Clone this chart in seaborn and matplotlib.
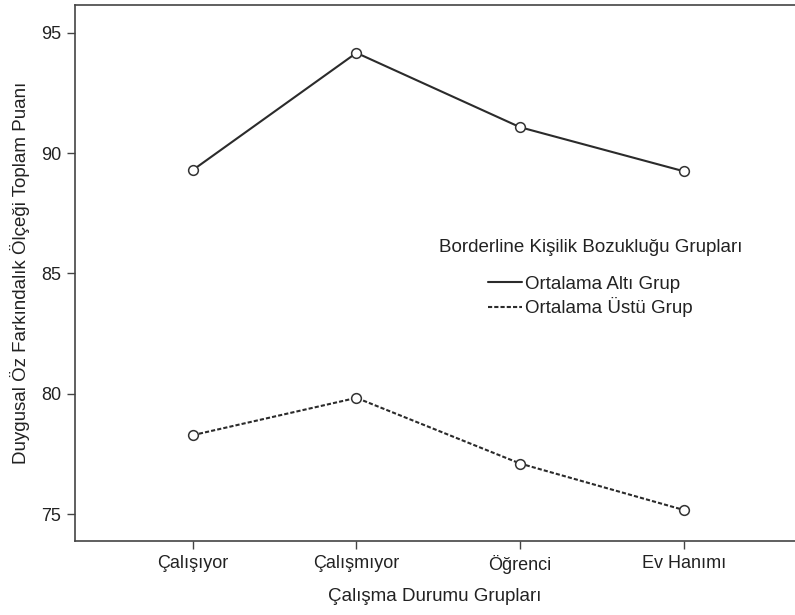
import matplotlib
matplotlib.use("Agg")
import matplotlib.pyplot as plt
import seaborn as sns
import pandas as pd

# data
gruplar = ["Çalışıyor", "Çalışmıyor", "Öğrenci", "Ev Hanımı"]
alti_grup = [89.3, 94.17, 91.08, 89.25]
ustu_grup = [78.28, 79.83, 77.1, 75.17]
seri_adlari = ["Ortalama Altı Grup", "Ortalama Üstü Grup"]

df = pd.DataFrame({
    "grup": gruplar * 2,
    "puan": alti_grup + ustu_grup,
    "seri": [seri_adlari[0]] * 4 + [seri_adlari[1]] * 4,
})

sns.set_style("ticks")
plt.rcParams["font.family"] = ["Liberation Sans", "DejaVu Sans"]

fig = plt.figure(figsize=(7.95, 6.15), dpi=100)
ax = fig.add_axes([75 / 795, 1 - 541 / 615, 1 - 75 / 795, 536 / 615])

sns.lineplot(data=df, x="grup", y="puan", hue="seri", style="seri",
             palette=["#2b2b2b", "#2b2b2b"],
             dashes={seri_adlari[0]: "", seri_adlari[1]: (2, 1)},
             markers={seri_adlari[0]: "o", seri_adlari[1]: "o"},
             markersize=7, markerfacecolor="white", markeredgecolor="#333333",
             markeredgewidth=1.1, linewidth=1.5, sort=False, ax=ax)

ax.set_xlim(-0.72, 3.68)
ax.set_ylim(73.88, 96.16)
ax.set_yticks([75, 80, 85, 90, 95])
ax.set_xlabel("Çalışma Durumu Grupları", fontsize=13.5, color="#222222", labelpad=10)
ax.set_ylabel("Duygusal Öz Farkındalık Ölçeği Toplam Puanı", fontsize=13.5,
              color="#222222", labelpad=8)
ax.tick_params(axis="both", direction="out", length=6, width=1, color="#444444",
               labelsize=13, labelcolor="#222222", pad=4,
               bottom=True, left=True)

for s in ["left", "bottom", "top"]:
    ax.spines[s].set_visible(True)
    ax.spines[s].set_color("#444444")
    ax.spines[s].set_linewidth(1.2)
ax.spines["right"].set_visible(False)

leg = ax.legend(title="Borderline Kişilik Bozukluğu Grupları", frameon=False,
                loc="center", bbox_to_anchor=(0.716, 0.49), fontsize=13.5,
                title_fontsize=13.5, handlelength=1.8, handletextpad=0.15,
                labelspacing=0.25)
leg._legend_box.sep = 14
for h in leg.legend_handles:
    h.set_marker("")
for t in leg.get_texts():
    t.set_color("#222222")
leg.get_title().set_color("#222222")

fig.savefig("out.png", dpi=100)
